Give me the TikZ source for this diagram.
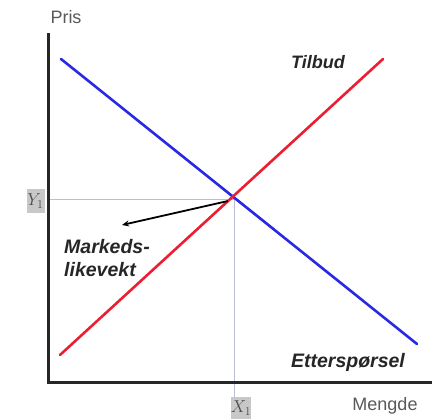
\documentclass[tikz,border=0pt]{standalone}
\usepackage{fontspec}
\setmainfont{Liberation Sans}
\usetikzlibrary{arrows.meta}
\definecolor{lblue}{RGB}{40,40,230}
\definecolor{lred}{RGB}{235,30,50}
\definecolor{guide}{RGB}{185,190,210}
\definecolor{boxgray}{RGB}{200,200,200}
\begin{document}
\begin{tikzpicture}[x=1pt,y=-1pt,
  axis/.style={line width=3pt,black!85},
  curve/.style={line width=2.6pt},
  guideline/.style={line width=0.8pt,guide},
  lbl/.style={font=\fontsize{19.5}{22}\selectfont\bfseries\itshape,text=black!85,inner sep=0pt},
  axlbl/.style={font=\fontsize{18}{20}\selectfont,text=black!65,inner sep=0pt},
  valbox/.style={fill=boxgray,text=black!70,inner sep=0pt,minimum width=18pt,minimum height=24pt,font=\fontsize{17}{18}\selectfont}
]
\useasboundingbox (0,0) rectangle (432,419);
% axes
\coordinate (ytop) at (48,33);
\coordinate (orig) at (48,383);
\coordinate (xend) at (432,383);
% guides
\coordinate (eq) at (234,199);
\node[valbox] (y1) at (35.5,201) {$Y_1$};
\node[valbox,minimum height=22pt] (x1) at (241,408) {$X_1$};
\draw[guideline] (orig |- eq) -- (eq);
\draw[guideline] (eq) -- (eq |- x1.north);
\draw[axis] (ytop) -- (orig) -- (xend);
% curves
\coordinate (d1) at (61,59);
\coordinate (d2) at (417,344);
\coordinate (s1) at (60,355);
\coordinate (s2) at (383,59);
\draw[curve,lblue,line cap=round] (d1) -- (d2);
\draw[curve,lred,line cap=round] (s1) -- (s2);
% labels
\node[axlbl] (pris) at (66,17) {Pris};
\node[axlbl] (mengde) at (385,406) {Mengde};
\node[lbl,font=\fontsize{18}{20}\selectfont\bfseries\itshape] (tilbud) at (318,62) {Tilbud};
\node[lbl] (ett) at (348,362) {Etterspørsel};
\node[lbl,align=left,anchor=north west,font=\fontsize{19.5}{23}\selectfont\bfseries\itshape] (mark) at (64,239) {Markeds-\\likevekt};
\coordinate (arrend) at (122,225);
\draw[line width=1.8pt,black,-{Stealth[length=7pt,width=6pt]}] (228,201) -- (arrend);
\end{tikzpicture}
\end{document}
